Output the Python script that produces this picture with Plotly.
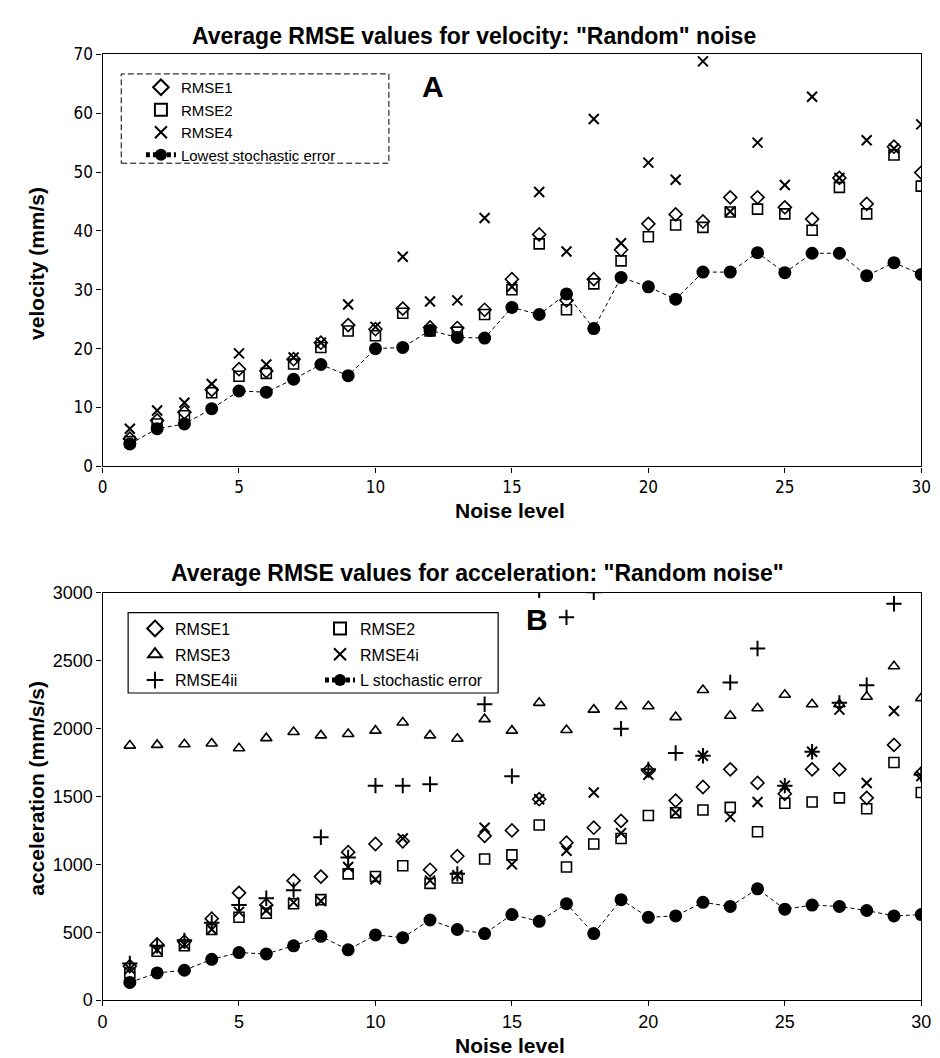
import plotly.graph_objects as go

noise = list(range(1, 31))

# ---- Velocity (chart A) ----
vel_rmse1 = [4.7, 7.8, 9.2, 13.0, 16.5, 16.2, 18.2, 21.0, 24.0, 23.3, 26.8, 23.6, 23.5, 26.6, 31.8,
             39.4, 28.2, 31.8, 36.8, 41.2, 42.8, 41.6, 45.7, 45.7, 44.0, 42.0, 49.0, 44.6, 54.3, 49.9]
vel_rmse2 = [4.2, 7.2, 8.6, 12.5, 15.3, 15.8, 17.4, 20.2, 23.0, 22.2, 26.0, 23.0, 22.8, 25.8, 30.0,
             37.8, 26.6, 31.0, 34.9, 39.0, 41.0, 40.6, 43.2, 43.7, 42.9, 40.1, 47.4, 42.9, 52.9, 47.6]
vel_rmse4 = [6.4, 9.5, 10.8, 14.0, 19.2, 17.3, 18.5, 21.0, 27.5, 23.7, 35.6, 28.0, 28.2, 42.2, 30.5,
             46.6, 36.5, 59.0, 37.9, 51.6, 48.7, 68.8, 43.3, 55.0, 47.8, 62.8, 49.0, 55.4, 54.0, 58.1]
vel_lowest = [3.8, 6.4, 7.2, 9.8, 12.8, 12.6, 14.8, 17.3, 15.4, 20.0, 20.2, 23.1, 21.9, 21.8, 27.0,
              25.8, 29.3, 23.4, 32.1, 30.5, 28.4, 33.0, 33.0, 36.3, 32.9, 36.2, 36.2, 32.4, 34.6, 32.6]

# ---- Acceleration (chart B) ----
acc_rmse1 = [250, 410, 430, 600, 790, 700, 880, 910, 1090, 1150, 1170, 960, 1060, 1210, 1250,
             1480, 1160, 1270, 1320, 1690, 1470, 1570, 1700, 1600, 1520, 1700, 1700, 1490, 1880, 1670]
acc_rmse2 = [200, 360, 400, 520, 610, 640, 710, 740, 930, 910, 990, 860, 900, 1040, 1070,
             1290, 980, 1150, 1190, 1360, 1380, 1400, 1420, 1240, 1450, 1460, 1490, 1410, 1750, 1530]
acc_rmse3 = [1875, 1880, 1885, 1890, 1855, 1930, 1975, 1950, 1960, 1985, 2045, 1950, 1925, 2070, 1985,
             2190, 1990, 2140, 2165, 2165, 2085, 2285, 2095, 2150, 2250, 2180, 2180, 2235, 2460, 2225]
acc_rmse4i = [230, 370, 410, 520, 650, 660, 720, 730, 980, 890, 1190, 880, 920, 1270, 1000,
              1480, 1100, 1530, 1230, 1660, 1380, 1800, 1350, 1460, 1580, 1830, 2140, 1600, 2130, 1650]
acc_rmse4ii = [270, 400, 440, 570, 700, 750, 810, 1200, 1050, 1580, 1580, 1590, 930, 2180, 1650,
               3020, 2820, 3005, 2000, 1700, 1820, 1800, 2340, 2590, 1580, 1830, 2190, 2320, 2920, 1660]
acc_lowest = [130, 200, 220, 300, 350, 340, 400, 470, 370, 480, 460, 590, 520, 490, 630,
              580, 710, 490, 740, 610, 620, 720, 690, 820, 670, 700, 690, 660, 620, 630]

x_ticks = [0, 5, 10, 15, 20, 25, 30]
vel_ticks = [0, 10, 20, 30, 40, 50, 60, 70]
acc_ticks = [0, 500, 1000, 1500, 2000, 2500, 3000]

W, H = 940, 1058
FONT = "Liberation Sans, Arial, sans-serif"
NARROW = "Liberation Sans Narrow, Arial Narrow, DejaVu Sans Condensed, Liberation Sans, sans-serif"
BLACK = "#000000"


def px_x(p):
    return p / W


def px_y(p):
    return 1 - p / H


def sym(name, size, lw=1.6):
    return dict(symbol=name, size=size, color=BLACK, line=dict(color=BLACK, width=lw))


fig = go.Figure()

# Top chart traces
fig.add_trace(go.Scatter(x=noise, y=vel_rmse1, mode="markers", name="RMSE1",
                         marker=sym("diamond-open", 10), xaxis="x", yaxis="y",
                         legend="legend", legendgroup="a1"))
fig.add_trace(go.Scatter(x=noise, y=vel_rmse2, mode="markers", name="RMSE2",
                         marker=sym("square-open", 10), xaxis="x", yaxis="y",
                         legend="legend", legendgroup="a2"))
fig.add_trace(go.Scatter(x=noise, y=vel_rmse4, mode="markers", name="RMSE4",
                         marker=sym("x-thin-open", 10, 2), xaxis="x", yaxis="y",
                         legend="legend", legendgroup="a3"))
fig.add_trace(go.Scatter(x=noise, y=vel_lowest, mode="lines+markers", name="Lowest stochastic error",
                         marker=dict(symbol="circle", size=13, color=BLACK),
                         line=dict(color=BLACK, width=1, dash="4px,3px"), xaxis="x", yaxis="y",
                         legend="legend", legendgroup="a4"))

# Bottom chart traces
bottom = [
    ("RMSE1", acc_rmse1, sym("diamond-open", 10), "legend2"),
    ("RMSE3", acc_rmse3, sym("triangle-up-open", 10), "legend2"),
    ("RMSE4ii", acc_rmse4ii, sym("cross-thin-open", 11, 2), "legend2"),
    ("RMSE2", acc_rmse2, sym("square-open", 10), "legend3"),
    ("RMSE4i", acc_rmse4i, sym("x-thin-open", 10, 2), "legend3"),
]
for i, (nm, vals, mk, lg) in enumerate(bottom):
    fig.add_trace(go.Scatter(x=noise, y=vals, mode="markers", name=nm, marker=mk,
                             xaxis="x2", yaxis="y2", legend=lg, legendgroup="b%d" % i))
fig.add_trace(go.Scatter(x=noise, y=acc_lowest, mode="lines+markers", name="L stochastic error",
                         marker=dict(symbol="circle", size=13, color=BLACK),
                         line=dict(color=BLACK, width=1, dash="4px,3px"),
                         xaxis="x2", yaxis="y2", legend="legend3", legendgroup="b9"))

axis_common = dict(showline=True, linecolor=BLACK, linewidth=1.3, mirror=True,
                   ticks="outside", ticklen=5, tickcolor=BLACK, showgrid=False, zeroline=False)

top_tickfont = dict(family=NARROW, size=17, color=BLACK)
bot_tickfont = dict(family=FONT, size=18, color=BLACK)

dom_x = [px_x(91), px_x(923)]
top_dom_y = [px_y(457), px_y(37)]
bot_dom_y = [px_y(1001), px_y(586)]

fig.update_layout(
    width=W, height=H,
    margin=dict(l=0, r=0, t=0, b=0),
    paper_bgcolor="white", plot_bgcolor="white",
    showlegend=True,
    xaxis=dict(domain=dom_x, range=[0, 30], tickvals=x_ticks, anchor="y",
               tickfont=top_tickfont, **axis_common),
    yaxis=dict(domain=top_dom_y, range=[0, 70], tickvals=vel_ticks, anchor="x",
               tickfont=top_tickfont, **axis_common),
    xaxis2=dict(domain=dom_x, range=[0, 30], tickvals=x_ticks, anchor="y2",
                tickfont=bot_tickfont, **axis_common),
    yaxis2=dict(domain=bot_dom_y, range=[0, 3000], tickvals=acc_ticks, anchor="x2",
                tickfont=bot_tickfont, **axis_common),
    legend=dict(x=px_x(130), y=px_y(54), xanchor="left", yanchor="top",
                bgcolor="rgba(255,255,255,0)", borderwidth=0, tracegroupgap=0,
                font=dict(family=FONT, size=15, color=BLACK), itemsizing="constant"),
    legend2=dict(x=px_x(124), y=px_y(605), xanchor="left", yanchor="top",
                 bgcolor="rgba(255,255,255,0)", borderwidth=0, tracegroupgap=2,
                 font=dict(family=FONT, size=16, color=BLACK), itemsizing="constant"),
    legend3=dict(x=px_x(312), y=px_y(605), xanchor="left", yanchor="top",
                 bgcolor="rgba(255,255,255,0)", borderwidth=0, tracegroupgap=2,
                 font=dict(family=FONT, size=16, color=BLACK), itemsizing="constant"),
)

# Legend frames
fig.add_shape(type="rect", xref="paper", yref="paper",
              x0=px_x(110), x1=px_x(382), y0=px_y(148), y1=px_y(57),
              line=dict(color=BLACK, width=1, dash="6px,3px"), fillcolor="rgba(0,0,0,0)")
fig.add_shape(type="rect", xref="paper", yref="paper",
              x0=px_x(117), x1=px_x(493), y0=px_y(688), y1=px_y(606),
              line=dict(color=BLACK, width=1.2), fillcolor="rgba(0,0,0,0)")

title_bold = dict(family=FONT, size=21, color=BLACK, weight="bold")

# Chart titles
fig.add_annotation(text='Average RMSE values for velocity: "Random" noise', xref="paper", yref="paper",
                   x=px_x(468), y=px_y(18), showarrow=False, xanchor="center", yanchor="middle",
                   font=dict(family=FONT, size=23, color=BLACK, weight="bold"))
fig.add_annotation(text='Average RMSE values for acceleration: "Random noise"', xref="paper", yref="paper",
                   x=px_x(472), y=px_y(566), showarrow=False, xanchor="center", yanchor="middle",
                   font=dict(family=FONT, size=23, color=BLACK, weight="bold"))

# Axis titles
fig.add_annotation(text="Noise level", xref="paper", yref="paper", x=px_x(505), y=px_y(502),
                   showarrow=False, xanchor="center", yanchor="middle", font=title_bold)
fig.add_annotation(text="Noise level", xref="paper", yref="paper", x=px_x(505), y=px_y(1047),
                   showarrow=False, xanchor="center", yanchor="middle", font=title_bold)
fig.add_annotation(text="velocity (mm/s)", xref="paper", yref="paper", x=px_x(24), y=px_y(250),
                   textangle=-90, showarrow=False, xanchor="center", yanchor="middle", font=title_bold)
fig.add_annotation(text="acceleration (mm/s/s)", xref="paper", yref="paper", x=px_x(24), y=px_y(785),
                   textangle=-90, showarrow=False, xanchor="center", yanchor="middle", font=title_bold)

# Panel letters
fig.add_annotation(text="A", xref="paper", yref="paper", x=px_x(427), y=px_y(70), showarrow=False,
                   xanchor="center", yanchor="middle",
                   font=dict(family=FONT, size=30, color=BLACK, weight="bold"))
fig.add_annotation(text="B", xref="paper", yref="paper", x=px_x(533), y=px_y(613), showarrow=False,
                   xanchor="center", yanchor="middle",
                   font=dict(family=FONT, size=30, color=BLACK, weight="bold"))

fig.write_html("out.html")
